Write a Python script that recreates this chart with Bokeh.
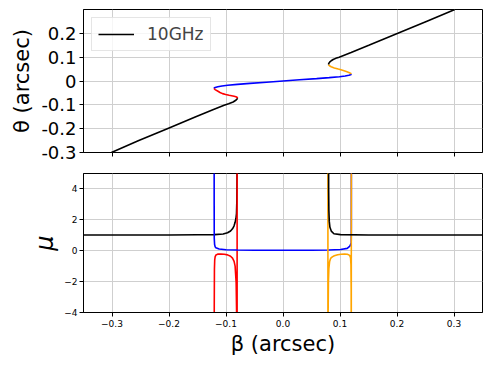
from bokeh.plotting import figure
from bokeh.layouts import column
from bokeh.models import FixedTicker, Range1d, Legend, LegendItem
from bokeh.embed import file_html
from bokeh.resources import INLINE

# ---------------- top panel: image positions theta vs source position beta (arcsec)
theta_black_left = [-0.300, -0.250, -0.200, -0.150, -0.120, -0.1017, -0.095, -0.088, -0.082, -0.077, -0.074, -0.072]
beta_black_left = [-0.301, -0.253, -0.203, -0.153, -0.122, -0.1033, -0.0955, -0.0875, -0.0835, -0.0812, -0.0802, -0.0798]

theta_red = [-0.072, -0.070, -0.068, -0.066, -0.064, -0.060, -0.0565, -0.053, -0.048, -0.042, -0.036, -0.033, -0.0305]
beta_red = [-0.0798, -0.0801, -0.081, -0.0825, -0.0858, -0.0945, -0.1005, -0.1061, -0.1105, -0.1148, -0.1192, -0.1203, -0.1208]

theta_blue = [-0.0305, -0.029, -0.027, -0.024, -0.021, -0.018, -0.014, -0.010, -0.005, 0.0, 0.005, 0.010, 0.014, 0.018, 0.021, 0.024, 0.026, 0.028, 0.029]
beta_blue = [-0.1208, -0.1205, -0.119, -0.1144, -0.107, -0.097, -0.080, -0.058, -0.029, 0.0, 0.029, 0.059, 0.081, 0.099, 0.109, 0.1155, 0.1185, 0.1196, 0.1198]

theta_orange = [0.029, 0.032, 0.036, 0.040, 0.045, 0.050, 0.055, 0.060, 0.064, 0.067, 0.069]
beta_orange = [0.1198, 0.1188, 0.1155, 0.111, 0.1045, 0.097, 0.090, 0.0845, 0.0815, 0.0802, 0.0798]

theta_black_right = [0.069, 0.071, 0.075, 0.080, 0.085, 0.090, 0.095, 0.100, 0.120, 0.150, 0.200, 0.250, 0.300]
beta_black_right = [0.0798, 0.0800, 0.0806, 0.0822, 0.0846, 0.0880, 0.0925, 0.0985, 0.1195, 0.1505, 0.2015, 0.2515, 0.3015]

# ---------------- bottom panel: magnification mu vs beta
mu_beta_black_left = [-0.36, -0.30, -0.20, -0.15, -0.12, -0.105, -0.0973, -0.092, -0.0886, -0.086, -0.084, -0.0825, -0.0816, -0.0810, -0.0807, -0.0805]
mu_black_left = [1.02, 1.02, 1.02, 1.03, 1.04, 1.08, 1.16, 1.28, 1.42, 1.6, 1.84, 2.1, 2.4, 3.2, 4.5, 8.0]

mu_beta_red = [-0.1208, -0.1206, -0.1203, -0.1198, -0.119, -0.1175, -0.114, -0.109, -0.103, -0.0973, -0.092, -0.0886, -0.0858, -0.084, -0.0822, -0.0812, -0.0807, -0.0805, -0.0805]
mu_red = [-10.0, -3.5, -1.2, -0.6, -0.38, -0.27, -0.22, -0.21, -0.23, -0.27, -0.36, -0.48, -0.69, -1.0, -2.06, -4.5, -10.0, -20.0, 10.0]

mu_beta_blue = [-0.1208, -0.12075, -0.1206, -0.1200, -0.1190, -0.1178, -0.112, -0.100, -0.080, -0.050, 0.0, 0.050, 0.080, 0.101, 0.1127, 0.1173, 0.1197, 0.1199, 0.1200]
mu_blue = [10.0, 3.0, 0.8, 0.4, 0.25, 0.19, 0.11, 0.06, 0.045, 0.035, 0.03, 0.035, 0.045, 0.08, 0.15, 0.3, 0.5, 1.5, 10.0]

mu_beta_orange = [0.1199, 0.1198, 0.1196, 0.1192, 0.1185, 0.117, 0.113, 0.108, 0.102, 0.096, 0.090, 0.0865, 0.0835, 0.0818, 0.0805, 0.0797, 0.0792, 0.0789, 0.0788, 0.0788]
mu_orange = [10.0, -10.0, -2.5, -0.9, -0.45, -0.3, -0.23, -0.22, -0.23, -0.26, -0.33, -0.4, -0.5, -0.7, -1.14, -2.0, -4.0, -10.0, -20.0, 10.0]

mu_beta_black_right = [0.0799, 0.0801, 0.0805, 0.0812, 0.0823, 0.0847, 0.0893, 0.101, 0.15, 0.25, 0.36]
mu_black_right = [10.0, 4.0, 2.6, 1.9, 1.52, 1.27, 1.1, 1.04, 1.02, 1.02, 1.02]

x_ticks = [-0.3, -0.2, -0.1, 0.0, 0.1, 0.2, 0.3]
x_tick_labels = ["\u22120.3", "\u22120.2", "\u22120.1", "0.0", "0.1", "0.2", "0.3"]
top_y_ticks = [-0.3, -0.2, -0.1, 0.0, 0.1, 0.2]
top_y_labels = ["-0.3", "-0.2", "-0.1", "0", "0.1", "0.2"]
bot_y_ticks = [-4, -2, 0, 2, 4]
bot_y_labels = ["\u22124", "\u22122", "0", "2", "4"]

FONT = "DejaVu Sans"
LW = 1.6


def style(p):
    p.outline_line_color = "black"
    p.outline_line_width = 1
    p.background_fill_color = "white"
    p.border_fill_color = "white"
    for ax in (p.xaxis[0], p.yaxis[0]):
        ax.axis_line_color = "black"
        ax.major_tick_line_color = "black"
        ax.major_tick_out = 4
        ax.major_tick_in = 0
        ax.minor_tick_line_color = None
        ax.major_label_text_font = FONT
        ax.axis_label_text_font = FONT
        ax.axis_label_text_font_style = "normal"
        ax.axis_label_text_color = "black"
        ax.major_label_text_color = "black"
    p.xgrid.grid_line_color = "#cfcfcf"
    p.ygrid.grid_line_color = "#cfcfcf"
    p.xgrid.grid_line_width = 1
    p.ygrid.grid_line_width = 1


p1 = figure(width=485, height=168, x_range=Range1d(-0.35, 0.35), y_range=Range1d(-0.3, 0.3),
            output_backend="svg", toolbar_location=None,
            min_border_left=83, min_border_right=3, min_border_top=9, min_border_bottom=16)
style(p1)
p1.xaxis.ticker = FixedTicker(ticks=x_ticks)
p1.xaxis.major_label_overrides = {t: "" for t in x_ticks}
p1.xaxis.major_label_text_font_size = "1px"
p1.xaxis.major_label_standoff = 0
p1.yaxis.ticker = FixedTicker(ticks=top_y_ticks)
p1.yaxis.major_label_overrides = dict(zip(top_y_ticks, top_y_labels))
p1.yaxis.major_label_text_font_size = "18px"
p1.yaxis.major_label_standoff = 3
p1.yaxis.axis_label = "\u03b8 (arcsec)"
p1.yaxis.axis_label_text_font_size = "21px"
p1.yaxis.axis_label_standoff = 4

r_bl = p1.line(beta_black_left, theta_black_left, line_color="black", line_width=LW)
p1.line(beta_red, theta_red, line_color="red", line_width=LW)
p1.line(beta_blue, theta_blue, line_color="blue", line_width=LW)
p1.line(beta_orange, theta_orange, line_color="orange", line_width=LW)
p1.line(beta_black_right, theta_black_right, line_color="black", line_width=LW)

legend = Legend(items=[LegendItem(label="10GHz", renderers=[r_bl])], location="top_left")
legend.margin = 8
legend.padding = 6
legend.spacing = 0
legend.label_standoff = 13
legend.glyph_width = 36
legend.glyph_height = 18
legend.label_height = 18
legend.label_text_font = FONT
legend.label_text_font_size = "17px"
legend.border_line_color = "#cccccc"
legend.border_line_width = 1
legend.background_fill_alpha = 0.8
p1.add_layout(legend)

p2 = figure(width=485, height=190, x_range=Range1d(-0.35, 0.35), y_range=Range1d(-4, 5),
            output_backend="svg", toolbar_location=None,
            min_border_left=83, min_border_right=3, min_border_top=5, min_border_bottom=43)
style(p2)
p2.xaxis.ticker = FixedTicker(ticks=x_ticks)
p2.xaxis.major_label_overrides = dict(zip(x_ticks, x_tick_labels))
p2.xaxis.major_label_text_font_size = "9px"
p2.xaxis.major_label_standoff = 3
p2.xaxis.axis_label = "\u03b2 (arcsec)"
p2.xaxis.axis_label_text_font_size = "21px"
p2.xaxis.axis_label_standoff = 2
p2.yaxis.ticker = FixedTicker(ticks=bot_y_ticks)
p2.yaxis.major_label_overrides = dict(zip(bot_y_ticks, bot_y_labels))
p2.yaxis.major_label_text_font_size = "9px"
p2.yaxis.major_label_standoff = 2
p2.yaxis.axis_label = "\u03bc"
p2.yaxis.axis_label_text_font_size = "24px"
p2.yaxis.axis_label_text_font_style = "italic"
p2.yaxis.axis_label_standoff = 2

p2.line(mu_beta_black_left, mu_black_left, line_color="black", line_width=LW)
p2.line(mu_beta_red, mu_red, line_color="red", line_width=LW)
p2.line(mu_beta_blue, mu_blue, line_color="blue", line_width=LW)
p2.line(mu_beta_orange, mu_orange, line_color="orange", line_width=LW)
p2.line(mu_beta_black_right, mu_black_right, line_color="black", line_width=LW)

layout = column(p1, p2, spacing=0)
open("out.html", "w").write(file_html(layout, INLINE))
